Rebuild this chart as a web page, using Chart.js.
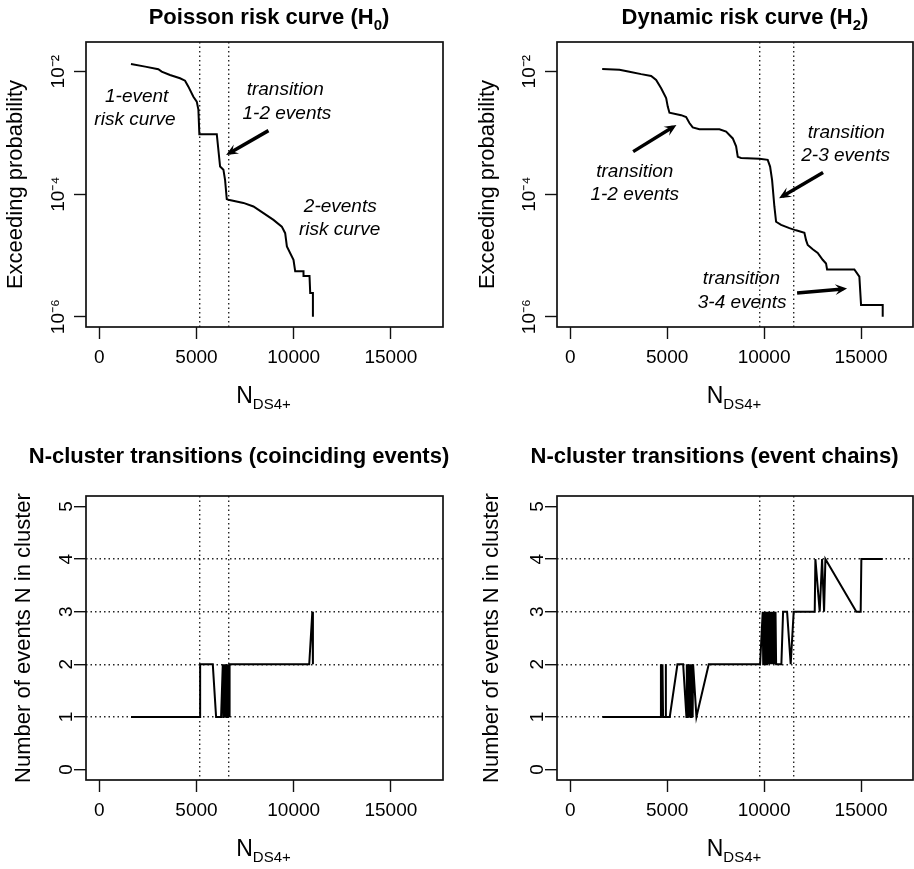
<!DOCTYPE html>
<html>
<head>
<meta charset="utf-8">
<script src="https://cdn.jsdelivr.net/npm/chart.js@4.4.1/dist/chart.umd.min.js"></script>
<style>
  html, body { margin: 0; padding: 0; background: #fff; }
  #wrap { position: relative; width: 914px; height: 869px; background: #fff; }
  canvas { position: absolute; display: block; }
</style>
</head>
<body>
<div id="wrap">
  <canvas id="c1" width="457" height="435" style="left:0;top:0"></canvas>
  <canvas id="c2" width="457" height="435" style="left:457px;top:0"></canvas>
  <canvas id="c3" width="457" height="434" style="left:0;top:435px"></canvas>
  <canvas id="c4" width="457" height="434" style="left:457px;top:435px"></canvas>
</div>
<script>
// ---------------- data ----------------
const xTicks = [0, 5000, 10000, 15000];
const logTicks = [1e-6, 1e-4, 1e-2];
const logTickLabels = ['10\u207B\u2076', '10\u207B\u2074', '10\u207B\u00B2'];
const countTicks = [0, 1, 2, 3, 4, 5];

// Poisson risk curve (H0): N_DS4+ vs exceeding probability
const poissonN = [1633, 2364, 3040, 3212, 3641, 4156, 4414, 4586, 4843, 5016, 5100, 5150, 6046, 6216, 6387, 6473, 6559, 6645, 7416, 7931, 8446, 8961, 9390, 9563, 9651, 9991, 10079, 10506, 10506, 10815, 10851, 10990, 10990];
const poissonP = [0.01337, 0.01208, 0.01096, 0.0100, 0.00883, 0.00780, 0.00713, 0.00569, 0.00389, 0.00324, 0.00240, 0.000955, 0.000955, 0.000282, 0.000251, 0.000170, 0.000083, 0.000081, 0.000072, 0.000063, 0.000049, 0.000038, 0.0000295, 0.0000231, 0.0000140, 0.0000085, 0.0000055, 0.0000055, 0.0000046, 0.0000046, 0.00000243, 0.00000243, 0.0000010];

// Dynamic risk curve (H2)
const dynamicN = [1650, 2541, 3057, 3660, 4175, 4433, 4691, 4949, 5032, 5119, 5722, 5980, 6150, 6320, 6665, 7696, 8041, 8385, 8557, 8643, 8815, 9758, 10187, 10310, 10413, 10531, 10619, 10877, 11306, 11650, 12079, 12165, 12251, 12508, 12766, 13022, 13195, 13248, 14656, 14914, 15001, 16118, 16118];
const dynamicP = [0.01107, 0.01072, 0.0100, 0.00912, 0.00851, 0.00733, 0.00537, 0.00372, 0.00269, 0.00214, 0.00195, 0.00182, 0.00145, 0.00123, 0.00115, 0.00115, 0.00105, 0.000813, 0.000603, 0.000407, 0.000389, 0.000380, 0.000363, 0.000282, 0.000170, 0.000063, 0.0000355, 0.0000316, 0.0000279, 0.0000257, 0.0000234, 0.0000178, 0.0000148, 0.0000126, 0.0000110, 0.0000085, 0.0000074, 0.0000059, 0.0000059, 0.0000045, 0.00000155, 0.00000155, 0.0000010];

// N-cluster transitions (coinciding events)
const coincN = [1633, 5186, 5190, 5840, 6010, 6268, 6355, 6380, 6405, 6440, 6475, 6495, 6515, 6535, 6555, 6575, 6595, 6615, 6635, 6655, 6675, 6695, 6715, 6731, 10800, 10960, 10990];
const coincK = [1, 1, 2, 2, 1, 1, 2, 1, 2, 1, 2, 1, 2, 1, 2, 1, 2, 1, 2, 1, 2, 1, 2, 2, 2, 3, 2];

// N-cluster transitions (event chains)
const chainN = [1666, 4672, 4680, 4720, 4760, 4790, 4910, 4929, 4940, 5135, 5532, 5826, 5995, 6015, 6035, 6055, 6075, 6095, 6115, 6135, 6155, 6175, 6195, 6215, 6235, 6255, 6275, 6295, 6315, 6340, 6511, 7146, 9795, 9929, 9955, 9985, 10010, 10040, 10065, 10095, 10120, 10150, 10175, 10205, 10230, 10260, 10285, 10315, 10340, 10370, 10395, 10425, 10450, 10480, 10505, 10535, 10560, 10590, 10620, 10635, 10892, 10980, 11186, 11372, 11527, 12612, 12646, 12869, 12991, 13094, 13162, 14759, 14982, 15017, 16118];
const chainK = [1, 1, 2, 1, 2, 1, 1, 2, 1, 1, 2, 2, 1, 2, 1, 2, 1, 2, 1, 2, 1, 2, 1, 2, 1, 2, 1, 2, 1, 2, 1, 2, 2, 3, 2, 3, 2, 3, 2, 3, 2, 3, 2, 3, 2, 3, 2, 3, 2, 3, 2, 3, 2, 3, 2, 3, 2, 3, 2, 2, 2, 3, 3, 2, 3, 3, 4, 3, 4, 3, 4, 3, 3, 4, 4];

// transition markers (vertical dotted lines)
const poissonTransitions = [5150, 6664];
const dynamicTransitions = [9795, 11527];

// ---------------- styling ----------------
const FONT = '"Liberation Sans", Arial, Helvetica, sans-serif';
Chart.defaults.font.family = FONT;
Chart.defaults.color = '#000';

function richText(ctx, parts, cx, baseline) {
  let total = 0;
  parts.forEach(p => { ctx.font = p.f; p.w = ctx.measureText(p.t).width; total += p.w; });
  let x = cx - total / 2;
  ctx.textAlign = 'left';
  ctx.textBaseline = 'alphabetic';
  parts.forEach(p => { ctx.font = p.f; ctx.fillText(p.t, x, baseline + (p.dy || 0)); x += p.w; });
}

const panelText = {
  id: 'panelText',
  beforeDraw(chart) {
    const ctx = chart.ctx;
    ctx.save(); ctx.fillStyle = '#fff'; ctx.fillRect(0, 0, chart.width, chart.height); ctx.restore();
  },
  afterDraw(chart, args, o) {
    const ctx = chart.ctx, a = chart.chartArea;
    const xs = chart.scales.x, ys = chart.scales.y;
    ctx.save();
    ctx.strokeStyle = '#111';
    ctx.lineWidth = 1.7;
    ctx.strokeRect(a.left, a.top, a.right - a.left, a.bottom - a.top);
    ctx.fillStyle = '#000';
    // main title with subscript
    const tp = [{ t: o.title, f: 'bold 22px ' + FONT }];
    if (o.titleSub) { tp.push({ t: o.titleSub, f: 'bold 15px ' + FONT, dy: 6 }); tp.push({ t: ')', f: 'bold 22px ' + FONT }); }
    richText(ctx, tp, o.titleX, o.titleY);
    // x-axis title N_DS4+
    richText(ctx, [{ t: 'N', f: '23px ' + FONT }, { t: 'DS4+', f: '15px ' + FONT, dy: 6 }], (a.left + a.right) / 2 - 1, a.bottom + 76);
    // annotations
    ctx.font = 'italic 19px ' + FONT;
    ctx.textAlign = 'center';
    ctx.textBaseline = 'middle';
    (o.notes || []).forEach(n => ctx.fillText(n.t, xs.getPixelForValue(n.x), ys.getPixelForValue(n.y)));
    // arrows
    ctx.strokeStyle = '#000';
    ctx.lineWidth = 3.5;
    ctx.lineCap = 'butt';
    (o.arrows || []).forEach(ar => {
      const x1 = xs.getPixelForValue(ar.x1), y1 = ys.getPixelForValue(ar.y1);
      const x2 = xs.getPixelForValue(ar.x2), y2 = ys.getPixelForValue(ar.y2);
      const ang = Math.atan2(y2 - y1, x2 - x1);
      const hl = 13, ha = 0.42;
      ctx.beginPath(); ctx.moveTo(x1, y1); ctx.lineTo(x2 - Math.cos(ang) * 4, y2 - Math.sin(ang) * 4); ctx.stroke();
      ctx.beginPath();
      ctx.moveTo(x2, y2);
      ctx.lineTo(x2 - hl * Math.cos(ang - ha), y2 - hl * Math.sin(ang - ha));
      ctx.lineTo(x2 - hl * 0.55 * Math.cos(ang), y2 - hl * 0.55 * Math.sin(ang));
      ctx.lineTo(x2 - hl * Math.cos(ang + ha), y2 - hl * Math.sin(ang + ha));
      ctx.closePath();
      ctx.fillStyle = '#000';
      ctx.fill();
    });
    ctx.restore();
  }
};

const DOT = 'rgba(0,0,0,0.85)';

function xScale(xHeight) {
  return {
    type: 'linear', position: 'bottom', min: -680, max: 17680, bounds: 'data',
    afterBuildTicks: s => { s.ticks = xTicks.map(v => ({ value: v })); },
    ticks: { font: { size: 19 }, color: '#000', padding: 7, maxRotation: 0, autoSkip: false, callback: v => String(v) },
    grid: { drawOnChartArea: false, drawTicks: true, tickLength: 12, tickColor: '#111', tickWidth: 1.4 },
    border: { display: false },
    afterFit: s => { s.height = xHeight; }
  };
}
function vLineScale(values) {
  return {
    type: 'linear', position: 'top', min: -680, max: 17680, bounds: 'data', display: true,
    afterBuildTicks: s => { s.ticks = values.map(v => ({ value: v })); },
    ticks: { display: false },
    grid: { drawOnChartArea: true, drawTicks: false, color: DOT, lineWidth: 1.4 },
    border: { display: false, dash: [1.5, 3] },
    afterFit: s => { s.height = 0; }
  };
}
function logYScale(width, titlePad) {
  return {
    type: 'logarithmic', position: 'left', min: 6.79e-7, max: 0.0305, bounds: 'data',
    afterBuildTicks: s => { s.ticks = logTicks.map(v => ({ value: v })); },
    ticks: { font: { size: 19 }, color: '#000', minRotation: 90, maxRotation: 90, crossAlign: 'center', padding: -2, autoSkip: false,
             callback: (v, i) => logTickLabels[i] },
    grid: { drawOnChartArea: false, drawTicks: true, tickLength: 12, tickColor: '#111', tickWidth: 1.4 },
    border: { display: false },
    title: { display: true, text: 'Exceeding probability', font: { size: 22 }, color: '#000', padding: { top: titlePad, bottom: 0 } },
    afterFit: s => { s.width = width; }
  };
}
function countYScale(width, titlePad) {
  return {
    type: 'linear', position: 'left', min: -0.2, max: 5.2, bounds: 'data',
    afterBuildTicks: s => { s.ticks = countTicks.map(v => ({ value: v })); },
    ticks: { font: { size: 19 }, color: '#000', minRotation: 90, maxRotation: 90, crossAlign: 'center', padding: 2, autoSkip: false,
             callback: v => String(v) },
    grid: { drawOnChartArea: true, drawTicks: true, tickLength: 12, tickColor: '#111', tickWidth: 1.4, lineWidth: 1.4,
            color: c => (c.tick && (c.tick.value === 0 || c.tick.value === 5)) ? 'rgba(0,0,0,0)' : DOT },
    border: { display: false, dash: [1.5, 3] },
    title: { display: true, text: 'Number of events N in cluster', font: { size: 22 }, color: '#000', padding: { top: titlePad, bottom: 0 } },
    afterFit: s => { s.width = width; }
  };
}

function series(xs, ys) { return xs.map((x, i) => ({ x: x, y: ys[i] })); }
function lineDs(data) {
  return { data: data, borderColor: '#000', borderWidth: 2, pointRadius: 0, tension: 0, fill: false, borderJoinStyle: 'miter' };
}

function makeChart(id, cfg) {
  return new Chart(document.getElementById(id), {
    type: 'line',
    data: { datasets: [lineDs(cfg.data)] },
    options: {
      responsive: false, animation: false, devicePixelRatio: 1,
      layout: { padding: { top: cfg.top, right: cfg.right, left: 0, bottom: 0 } },
      scales: { x: xScale(cfg.xHeight), xv: cfg.vlines, y: cfg.y },
      plugins: {
        legend: { display: false }, tooltip: { enabled: false }, title: { display: false },
        panelText: cfg.text
      }
    },
    plugins: [panelText]
  });
}

makeChart('c1', {
  data: series(poissonN, poissonP), top: 42, right: 14, xHeight: 108,
  vlines: vLineScale(poissonTransitions), y: logYScale(86, 3),
  text: {
    title: 'Poisson risk curve (H', titleSub: '0', titleX: 269, titleY: 24,
    notes: [
      { t: '1-event', x: 1926, y: 0.00391 }, { t: 'risk curve', x: 1839, y: 0.00163 },
      { t: 'transition', x: 9564, y: 0.00502 }, { t: '1-2 events', x: 9651, y: 0.00204 },
      { t: '2-events', x: 12396, y: 6.14e-5 }, { t: 'risk curve', x: 12360, y: 2.61e-5 }
    ],
    arrows: [{ x1: 8704, y1: 0.00109, x2: 6525, y2: 0.000438 }]
  }
});

makeChart('c2', {
  data: series(dynamicN, dynamicP), top: 42, right: 1, xHeight: 108,
  vlines: vLineScale(dynamicTransitions), y: logYScale(100, 18),
  text: {
    title: 'Dynamic risk curve (H', titleSub: '2', titleX: 288, titleY: 24,
    notes: [
      { t: 'transition', x: 3330, y: 2.34e-4 }, { t: '1-2 events', x: 3330, y: 9.75e-5 },
      { t: 'transition', x: 14243, y: 1.01e-3 }, { t: '2-3 events', x: 14207, y: 4.22e-4 },
      { t: 'transition', x: 8831, y: 4.10e-6 }, { t: '3-4 events', x: 8867, y: 1.67e-6 }
    ],
    arrows: [
      { x1: 3248, y1: 4.95e-4, x2: 5480, y2: 1.35e-3 },
      { x1: 13042, y1: 2.25e-4, x2: 10774, y2: 8.61e-5 },
      { x1: 11702, y1: 2.43e-6, x2: 14279, y2: 2.88e-6 }
    ]
  }
});

makeChart('c3', {
  data: series(coincN, coincK), top: 61, right: 14, xHeight: 89,
  vlines: vLineScale(poissonTransitions), y: countYScale(86, 11),
  text: { title: 'N-cluster transitions (coinciding events)', titleX: 239, titleY: 28 }
});

makeChart('c4', {
  data: series(chainN, chainK), top: 61, right: 1, xHeight: 89,
  vlines: vLineScale(dynamicTransitions), y: countYScale(100, 22),
  text: { title: 'N-cluster transitions (event chains)', titleX: 257.5, titleY: 28 }
});
</script>
</body>
</html>
